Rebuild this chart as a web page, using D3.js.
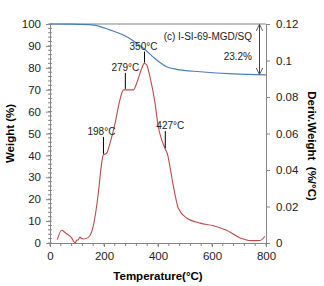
<!DOCTYPE html>
<html>
<head>
<meta charset="utf-8">
<script src="https://cdn.jsdelivr.net/npm/d3@7"></script>
<style>
  body { margin: 0; background: #fff; }
  svg { font-family: "Liberation Sans", Arial, sans-serif; }
</style>
</head>
<body>
<div id="chart"></div>
<script>
// TGA weight curve (left axis, %)
const weightTemp = [0, 80, 160, 222, 284, 346, 395, 432, 469, 556, 679, 800]
const weightVal = [100, 99.9, 99.5, 97.3, 94.2, 88.9, 83.6, 80.5, 79.3, 78.2, 77.2, 76.8]

// DTG curve (right axis, %/°C)
const derivTemp = [27, 43, 60, 80, 88, 93, 98, 105, 111, 117, 123, 142, 160, 179, 189, 197, 210, 222, 241, 259, 272, 309, 321, 340, 349, 358, 370, 389, 401, 414, 426, 436, 444, 457, 475, 506, 556, 605, 654, 704, 753, 778, 796]
const derivVal = [0.0018, 0.0070, 0.0052, 0.0028, 0.0008, 0.0000, 0.0014, 0.0018, 0.0033, 0.0024, 0.0022, 0.0031, 0.0091, 0.0274, 0.0410, 0.0482, 0.0492, 0.0546, 0.0656, 0.0784, 0.0839, 0.0839, 0.0875, 0.0958, 0.0984, 0.0976, 0.0912, 0.0766, 0.0637, 0.0564, 0.0518, 0.0482, 0.0420, 0.0311, 0.0192, 0.0137, 0.0109, 0.0095, 0.0070, 0.0028, 0.0013, 0.0014, 0.0037]

const xTicks = [0, 200, 400, 600, 800]
const leftTicks = [0, 10, 20, 30, 40, 50, 60, 70, 80, 90, 100]
const rightTicks = [0, 0.02, 0.04, 0.06, 0.08, 0.1, 0.12]

// peak labels
const peakTemp = [198, 279, 350, 427]
const peakLabel = ["198°C", "279°C", "350°C", "427°C"]

const width = 324, height = 286
const margin = {top: 24, right: 58, bottom: 43, left: 50}
const axisColor = "#868686"

const svg = d3.select("#chart").append("svg")
    .attr("width", width)
    .attr("height", height)

const x = d3.scaleLinear().domain([0, 800]).range([margin.left, width - margin.right])
const yL = d3.scaleLinear().domain([0, 100]).range([height - margin.bottom, margin.top])
const yR = d3.scaleLinear().domain([0, 0.12]).range([height - margin.bottom, margin.top])

// top border of plot area
svg.append("line")
   .attr("x1", x(0)).attr("x2", x(800))
   .attr("y1", yL(100)).attr("y2", yL(100))
   .attr("stroke", axisColor)

// minor ticks
const gMinor = svg.append("g").attr("stroke", axisColor)
d3.range(0, 101, 2).forEach(v => {
    gMinor.append("line").attr("x1", x(0) - 2).attr("x2", x(0) + 2)
          .attr("y1", yL(v)).attr("y2", yL(v))
})
d3.range(0, 801, 40).forEach(v => {
    gMinor.append("line").attr("x1", x(v)).attr("x2", x(v))
          .attr("y1", yL(0)).attr("y2", yL(0) + 3)
})

function styleAxis(g) {
    g.selectAll(".domain").attr("stroke", axisColor)
    g.selectAll(".tick line").attr("stroke", axisColor)
    g.selectAll("text").attr("fill", "#222").attr("font-size", 11.5)
}

svg.append("g")
   .attr("transform", `translate(0, ${yL(0)})`)
   .call(d3.axisBottom(x).tickValues(xTicks).tickSize(4).tickSizeOuter(0).tickPadding(5))
   .call(styleAxis)

svg.append("g")
   .attr("transform", `translate(${x(0)}, 0)`)
   .call(d3.axisLeft(yL).tickValues(leftTicks).tickSize(4).tickSizeOuter(0).tickPadding(5))
   .call(styleAxis)

svg.append("g")
   .attr("transform", `translate(${x(800)}, 0)`)
   .call(d3.axisRight(yR).tickValues(rightTicks).tickSize(4).tickSizeOuter(0).tickPadding(6)
            .tickFormat(d => d === 0 ? "0" : d3.format("")(+d.toFixed(2))))
   .call(styleAxis)

// curves
const weightData = weightTemp.map((t, i) => ({t: t, v: weightVal[i]}))
const derivData = derivTemp.map((t, i) => ({t: t, v: derivVal[i]}))

svg.append("path")
   .datum(weightData)
   .attr("fill", "none")
   .attr("stroke", "#4a7ebb")
   .attr("stroke-width", 1.2)
   .attr("d", d3.line().x(d => x(d.t)).y(d => yL(d.v)).curve(d3.curveMonotoneX))

const derivLine = d3.line().x(d => x(d.t)).y(d => yR(d.v)).curve(d3.curveMonotoneX)
svg.append("path")
   .datum(derivData)
   .attr("fill", "none")
   .attr("stroke", "#be4b48")
   .attr("stroke-width", 1.1)
   .attr("d", derivLine)

// peak annotations
const interp = t => {
    let i = d3.bisectLeft(derivTemp, t)
    if (i <= 0) return derivVal[0]
    const t0 = derivTemp[i - 1], t1 = derivTemp[i]
    return derivVal[i - 1] + (derivVal[i] - derivVal[i - 1]) * (t - t0) / (t1 - t0)
}
const lineLen = [17, 16, 11, 17]
const labelDx = [-2, 0, -1, 5]
peakTemp.forEach((t, i) => {
    const py = yR(interp(t)) - 1
    svg.append("line")
       .attr("x1", x(t)).attr("x2", x(t))
       .attr("y1", py).attr("y2", py - lineLen[i])
       .attr("stroke", "#000").attr("stroke-width", 1)
    svg.append("text")
       .attr("x", x(t) + labelDx[i])
       .attr("y", py - lineLen[i] - 2)
       .attr("text-anchor", "middle")
       .attr("font-size", 10)
       .attr("fill", "#222")
       .text(peakLabel[i])
})

// weight loss arrow
const ax = 259.5
svg.append("defs").append("marker")
   .attr("id", "head")
   .attr("viewBox", "0 0 10 10")
   .attr("refX", 9).attr("refY", 5)
   .attr("markerWidth", 7).attr("markerHeight", 7)
   .attr("orient", "auto-start-reverse")
   .append("path")
   .attr("d", "M0,0 L10,5 L0,10")
   .attr("fill", "none")
   .attr("stroke", "#444")
   .attr("stroke-width", 1.2)

svg.append("line")
   .attr("x1", ax).attr("x2", ax)
   .attr("y1", yL(100) + 1).attr("y2", yL(weightVal[weightVal.length - 1]) - 1)
   .attr("stroke", "#444").attr("stroke-width", 1)
   .attr("marker-start", "url(#head)")
   .attr("marker-end", "url(#head)")

svg.append("text")
   .attr("x", 252).attr("y", 40)
   .attr("text-anchor", "end")
   .attr("font-size", 10)
   .attr("fill", "#222")
   .text("(c) I-SI-69-MGD/SQ")

svg.append("text")
   .attr("x", 252).attr("y", 60)
   .attr("text-anchor", "end")
   .attr("font-size", 10)
   .attr("fill", "#222")
   .text("23.2%")

// axis titles
svg.append("text")
   .attr("x", (x(0) + x(800)) / 2)
   .attr("y", 280)
   .attr("text-anchor", "middle")
   .attr("font-size", 11.5)
   .attr("font-weight", "bold")
   .text("Temperature(°C)")

svg.append("text")
   .attr("transform", `translate(14, ${(yL(0) + yL(100)) / 2}) rotate(-90)`)
   .attr("text-anchor", "middle")
   .attr("font-size", 11.5)
   .attr("font-weight", "bold")
   .text("Weight (%)")

svg.append("text")
   .attr("transform", `translate(308, 146) rotate(90)`)
   .attr("text-anchor", "middle")
   .attr("font-size", 11.5)
   .attr("font-weight", "bold")
   .attr("xml:space", "preserve")
   .text("Deriv.Weight  (%/°C)")
</script>
</body>
</html>
